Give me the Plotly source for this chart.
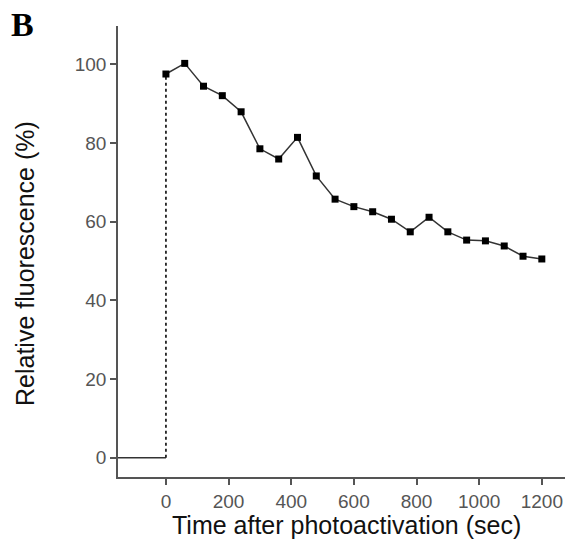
import plotly.graph_objects as go

# Data
time_sec = [0, 60, 120, 180, 240, 300, 360, 420, 480, 540, 600, 660, 720,
            780, 840, 900, 960, 1020, 1080, 1140, 1200]
rel_fluor = [97.5, 100.2, 94.4, 92.0, 87.9, 78.5, 75.9, 81.4, 71.6, 65.7, 63.8,
             62.5, 60.6, 57.4, 61.1, 57.4, 55.3, 55.1, 53.8, 51.2, 50.5]
pre_x = [-153, 0]
pre_y = [0, 0]
jump_x = [0, 0]
jump_y = [0, 97.5]
x_ticks = [0, 200, 400, 600, 800, 1000, 1200]
y_ticks = [0, 20, 40, 60, 80, 100]

W, H = 570, 546
L, R, T, B = 118, 5, 26, 69
pw, ph = W - L - R, H - T - B

def px(xp):
    return (xp - L) / pw

def py(yp):
    return (H - B - yp) / ph

fig = go.Figure()
fig.add_trace(go.Scatter(x=pre_x, y=pre_y, mode="lines",
                         line=dict(color="#333333", width=1.5), showlegend=False))
fig.add_trace(go.Scatter(x=jump_x, y=jump_y, mode="lines",
                         line=dict(color="#222222", width=1.8, dash="dot"), showlegend=False))
fig.add_trace(go.Scatter(x=time_sec, y=rel_fluor, mode="lines+markers",
                         line=dict(color="#333333", width=1.5),
                         marker=dict(symbol="square", size=7, color="#000000"),
                         showlegend=False))

fig.update_layout(
    width=W, height=H,
    margin=dict(l=L, r=R, t=T, b=B, autoexpand=False),
    plot_bgcolor="white", paper_bgcolor="white",
    font=dict(family="Liberation Sans, Arial, sans-serif", color="#555555"),
    xaxis=dict(range=[-153, 1274], tickvals=x_ticks, showgrid=False, zeroline=False,
               showline=True, linecolor="#555555", linewidth=1.5,
               ticks="outside", ticklen=6, tickwidth=1.5, tickcolor="#555555",
               tickfont=dict(size=19, color="#555555"), automargin=False),
    yaxis=dict(range=[-4.9, 109.7], tickvals=y_ticks, showgrid=False, zeroline=False,
               showline=True, linecolor="#555555", linewidth=1.5,
               ticks="outside", ticklen=6, tickwidth=1.5, tickcolor="#555555",
               tickfont=dict(size=19, color="#555555"), automargin=False),
    annotations=[
        dict(text="<b>B</b>", xref="paper", yref="paper", x=px(9), y=py(24),
             xanchor="left", yanchor="middle", showarrow=False,
             font=dict(family="Liberation Serif, Times New Roman, serif", size=34, color="#000000")),
        dict(text="Relative fluorescence (%)", xref="paper", yref="paper",
             x=px(25), y=py(264), xanchor="center", yanchor="middle", textangle=-90,
             showarrow=False, font=dict(size=25, color="#111111")),
        dict(text="Time after photoactivation (sec)", xref="paper", yref="paper",
             x=px(346), y=py(525), xanchor="center", yanchor="middle",
             showarrow=False, font=dict(size=25, color="#111111")),
    ],
)

fig.write_html("out.html", config={"displayModeBar": False},
               post_script="document.body.style.margin='0';document.body.style.overflow='hidden';")
